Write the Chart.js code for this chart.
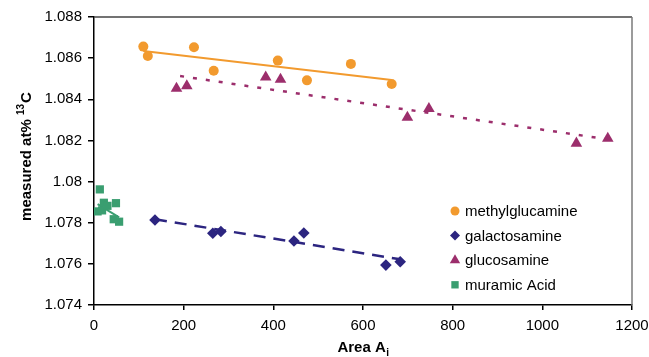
<!DOCTYPE html>
<html>
<head>
<meta charset="utf-8">
<script src="https://cdn.jsdelivr.net/npm/chart.js@4/dist/chart.umd.min.js"></script>
<style>
  html, body { margin: 0; padding: 0; background: #fff; }
</style>
</head>
<body>
<canvas id="chart" width="649" height="357"></canvas>
<script>
// values
var methylX = [110, 120, 223, 267, 410, 475, 573, 664];
var methylY = [1.08656, 1.08610, 1.08653, 1.08539, 1.08588, 1.08492, 1.08572, 1.08474];
var galactoX = [136, 265, 283, 446, 468, 651, 683];
var galactoY = [1.07813, 1.07749, 1.07757, 1.07711, 1.07750, 1.07594, 1.07610];
var glucoX = [184, 207, 383, 416, 699, 747, 1076, 1146];
var glucoY = [1.08453, 1.08465, 1.08507, 1.08497, 1.08312, 1.08354, 1.08186, 1.08210];
var muramicX = [13, 8, 18, 22, 30, 49, 44, 56];
var muramicY = [1.07962, 1.07855, 1.07860, 1.07897, 1.07882, 1.07895, 1.07817, 1.07805];

// trend line end points
var methylTrendX = [110, 664];
var methylTrendY = [1.08635, 1.08494];
var galactoTrendX = [136, 683];
var galactoTrendY = [1.07817, 1.07622];
var glucoTrendX = [192, 1150];
var glucoTrendY = [1.08513, 1.08204];
var muramicTrendX = [8, 56];
var muramicTrendY = [1.07890, 1.07826];

var xTicks = [0, 200, 400, 600, 800, 1000, 1200];
var yTicks = [1.074, 1.076, 1.078, 1.08, 1.082, 1.084, 1.086, 1.088];

var ORANGE = '#F29A2E';
var NAVY = '#2C2580';
var PURPLE = '#9C2E6C';
var GREEN = '#3A9E70';
var FONT = "'Liberation Sans', Arial, sans-serif";

function pts(xs, ys) {
  return xs.map(function (x, i) { return { x: x, y: ys[i] }; });
}

function pointSet(label, xs, ys, color, style, radius) {
  return {
    label: label,
    data: pts(xs, ys),
    showLine: false,
    pointStyle: style,
    pointRadius: radius,
    pointHoverRadius: radius,
    backgroundColor: color,
    borderColor: color,
    borderWidth: 0,
    legend: true,
    order: 1
  };
}

function trendSet(xs, ys, color, dash, width) {
  return {
    data: pts(xs, ys),
    showLine: true,
    pointRadius: 0,
    borderColor: color,
    borderWidth: width,
    borderDash: dash,
    fill: false,
    order: 2
  };
}

var frame = {
  id: 'frame',
  beforeDatasetsDraw: function (chart) {
    var a = chart.chartArea, ctx = chart.ctx;
    ctx.save();
    ctx.lineWidth = 1.5;
    ctx.strokeStyle = '#444';
    ctx.beginPath();
    ctx.moveTo(a.left, a.top);
    ctx.lineTo(a.right, a.top);
    ctx.stroke();
    ctx.strokeStyle = '#7a7a7a';
    ctx.beginPath();
    ctx.moveTo(a.right, a.top);
    ctx.lineTo(a.right, a.bottom);
    ctx.stroke();
    ctx.restore();
  }
};

var labels = {
  id: 'labels',
  afterDraw: function (chart) {
    var ctx = chart.ctx, a = chart.chartArea;
    ctx.save();
    ctx.fillStyle = '#000';
    ctx.textBaseline = 'alphabetic';

    // x title: Area A_i
    var big = 'bold 15px ' + FONT, small = 'bold 10px ' + FONT;
    ctx.font = big;
    var t1 = 'Area A';
    var w1 = ctx.measureText(t1).width;
    ctx.font = small;
    var w2 = ctx.measureText('i').width;
    var x0 = (a.left + a.right) / 2 - (w1 + w2) / 2;
    var y0 = 352;
    ctx.font = big;
    ctx.fillText(t1, x0, y0);
    ctx.font = small;
    ctx.fillText('i', x0 + w1 + 0.5, y0 + 4);

    // y title: measured at% 13C
    ctx.translate(31, (a.top + a.bottom) / 2 - 4);
    ctx.rotate(-Math.PI / 2);
    ctx.font = big;
    var s1 = 'measured at% ';
    var sw1 = ctx.measureText(s1).width;
    ctx.font = small;
    var sw2 = ctx.measureText('13').width;
    ctx.font = big;
    var sw3 = ctx.measureText('C').width;
    var sx = -(sw1 + sw2 + sw3) / 2;
    ctx.fillText(s1, sx, 0);
    ctx.font = small;
    ctx.fillText('13', sx + sw1, -7);
    ctx.font = big;
    ctx.fillText('C', sx + sw1 + sw2 + 1, 0);
    ctx.restore();

    // legend
    ctx.save();
    var lx = 455, ly = 211, step = 24.6;
    var sets = chart.data.datasets.filter(function (d) { return d.legend; });
    sets.forEach(function (d, i) {
      var cy = ly + i * step;
      ctx.fillStyle = d.backgroundColor;
      ctx.strokeStyle = d.backgroundColor;
      var r = d.pointStyle === 'circle' ? 4.5 : d.pointStyle === 'triangle' ? 6 : d.pointStyle === 'rect' ? 5.2 : 5;
      Chart.helpers.drawPoint(ctx, { pointStyle: d.pointStyle, radius: r, borderWidth: 0, rotation: 0 }, lx, cy);
      ctx.fillStyle = '#000';
      ctx.font = '15px ' + FONT;
      ctx.textBaseline = 'middle';
      ctx.fillText(d.label, 465, cy + 1);
    });
    ctx.restore();
  }
};

new Chart(document.getElementById('chart').getContext('2d'), {
  type: 'scatter',
  data: {
    datasets: [
      pointSet('methylglucamine', methylX, methylY, ORANGE, 'circle', 5),
      pointSet('galactosamine', galactoX, galactoY, NAVY, 'rectRot', 5.8),
      pointSet('glucosamine', glucoX, glucoY, PURPLE, 'triangle', 6.7),
      pointSet('muramic Acid', muramicX, muramicY, GREEN, 'rect', 5.8),
      trendSet(methylTrendX, methylTrendY, ORANGE, [], 2),
      trendSet(galactoTrendX, galactoTrendY, NAVY, [12, 8], 2.5),
      trendSet(glucoTrendX, glucoTrendY, PURPLE, [4, 9], 2.5),
      trendSet(muramicTrendX, muramicTrendY, GREEN, [], 2)
    ]
  },
  options: {
    responsive: false,
    animation: false,
    layout: { padding: { top: 17, right: 17, left: 0, bottom: 0 } },
    plugins: {
      legend: { display: false },
      tooltip: { enabled: false },
      title: { display: false }
    },
    scales: {
      x: {
        type: 'linear',
        min: 0,
        max: 1200,
        afterBuildTicks: function (s) { s.ticks = xTicks.map(function (v) { return { value: v }; }); },
        afterFit: function (s) { s.height = 52; s.paddingLeft = 0; s.paddingRight = 0; },
        grid: { drawOnChartArea: false, drawTicks: true, tickLength: 5, color: '#000', lineWidth: 1.5 },
        border: { display: true, color: '#000', width: 1.5 },
        ticks: {
          color: '#000',
          font: { family: FONT, size: 15 },
          padding: 7,
          maxRotation: 0,
          callback: function (v) { return String(v); }
        }
      },
      y: {
        type: 'linear',
        min: 1.074,
        max: 1.088,
        afterBuildTicks: function (s) { s.ticks = yTicks.map(function (v) { return { value: v }; }); },
        afterFit: function (s) { s.width = 94; s.paddingTop = 0; s.paddingBottom = 0; },
        grid: { drawOnChartArea: false, drawTicks: true, tickLength: 6, color: '#000', lineWidth: 1.5 },
        border: { display: true, color: '#000', width: 1.5 },
        ticks: {
          color: '#000',
          font: { family: FONT, size: 15 },
          padding: 6,
          callback: function (v) { return String(Number(v.toFixed(3))); }
        }
      }
    }
  },
  plugins: [frame, labels]
});
</script>
</body>
</html>
